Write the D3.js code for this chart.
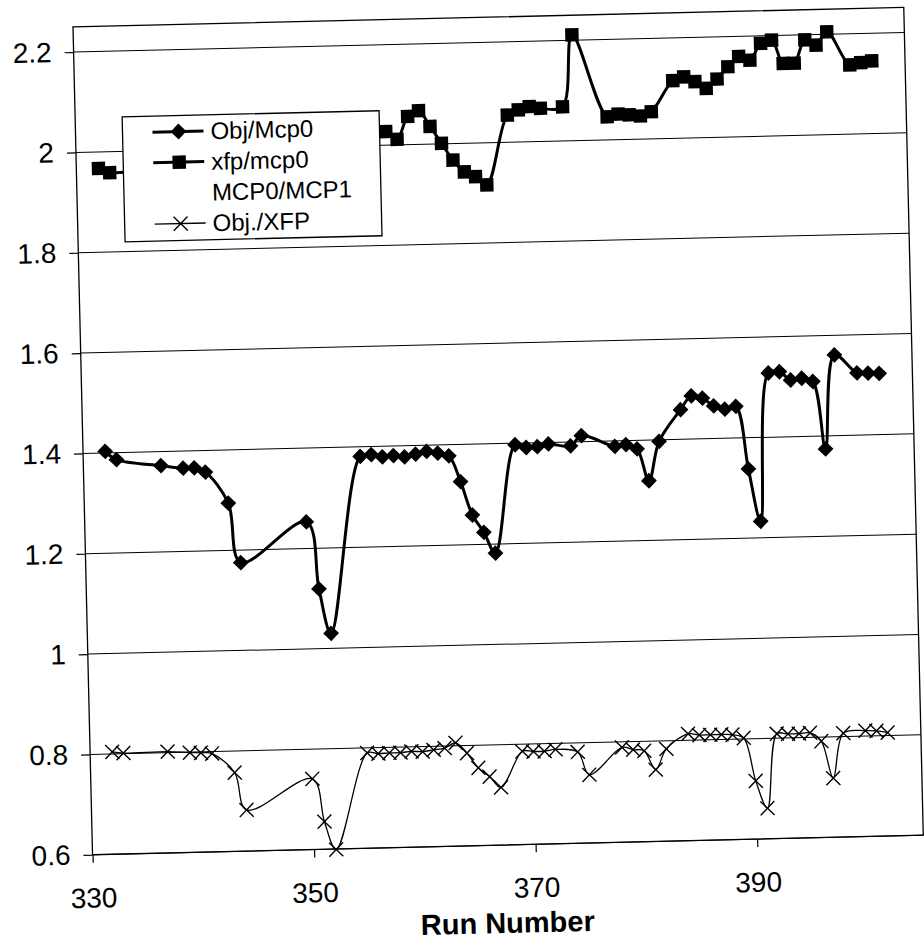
<!DOCTYPE html>
<html>
<head>
<meta charset="utf-8">
<script src="https://cdn.jsdelivr.net/npm/d3@7"></script>
<style>
  body { margin: 0; background: #fff; }
  text { font-family: "Liberation Sans", Arial, sans-serif; fill: #000; }
</style>
</head>
<body>
<div id="vis"></div>
<script>
// run numbers shared by Obj/Mcp0 and Obj./XFP
const runs = [332,333,337,339,340,341,343,344,350,351,352,355,356,357,358,359,360,361,362,363,
  364,365,366,367,369,370,371,372,374,375,378,379,380,381,382,384,385,386,387,388,389,390,391,
  392,393,394,395,396,397,398,400,401,402];
const objMcp0 = [1.403,1.386,1.372,1.366,1.366,1.357,1.294,1.175,1.253,1.119,1.030,1.381,1.384,
  1.379,1.381,1.378,1.383,1.388,1.384,1.378,1.326,1.259,1.224,1.182,1.397,1.391,1.392,1.397,
  1.392,1.412,1.389,1.392,1.383,1.319,1.397,1.459,1.486,1.481,1.465,1.458,1.463,1.338,1.233,
  1.528,1.530,1.513,1.516,1.509,1.374,1.561,1.524,1.523,1.522];
const objXfp = [0.804,0.801,0.802,0.799,0.798,0.796,0.757,0.682,0.741,0.655,0.599,0.790,0.788,
  0.789,0.789,0.791,0.790,0.793,0.796,0.806,0.785,0.755,0.737,0.715,0.786,0.785,0.785,0.788,
  0.782,0.736,0.789,0.784,0.781,0.743,0.784,0.813,0.810,0.810,0.810,0.809,0.802,0.716,0.661,
  0.809,0.808,0.808,0.809,0.792,0.718,0.807,0.811,0.810,0.806];
// xfp/mcp0 (points under the legend are not readable)
const xfpRuns = [332,333,358,359,360,361,362,363,364,365,366,367,369,370,371,372,374,375,378,
  379,380,381,382,384,385,386,387,388,389,390,391,392,393,394,395,396,397,398,400,401,402];
const xfpMcp0 = [1.967,1.958,2.027,2.011,2.056,2.067,2.035,2.001,1.967,1.943,1.933,1.916,2.054,
  2.064,2.070,2.066,2.068,2.211,2.046,2.051,2.049,2.046,2.054,2.115,2.122,2.112,2.098,2.116,
  2.140,2.160,2.152,2.185,2.191,2.144,2.144,2.190,2.179,2.205,2.138,2.142,2.145];
// MCP0/MCP1 has a legend entry but nothing plotted
const mcpRatio = [];

const yTicks = [0.6,0.8,1,1.2,1.4,1.6,1.8,2,2.2];
const xTicks = [330,350,370,390];
const legendNames = ["Obj/Mcp0","xfp/mcp0","MCP0/MCP1","Obj./XFP"];

const W = 924, H = 947;
const plotLeft = 73, plotTop = 27, pw = 831, ph = 828;

const svg = d3.select("#vis").append("svg")
    .attr("width", W)
    .attr("height", H);

// the scanned page is slightly skewed
const g = svg.append("g").attr("transform", "rotate(-1.35,72,27)");

const x = d3.scaleLinear().domain([330, 405]).range([plotLeft, plotLeft + pw]);
const y = d3.scaleLinear().domain([0.6, 2.25]).range([plotTop + ph, plotTop]);

// gridlines
g.append("g").selectAll("line")
    .data(yTicks)
    .enter().append("line")
    .attr("x1", plotLeft).attr("x2", plotLeft + pw)
    .attr("y1", d => y(d)).attr("y2", d => y(d))
    .attr("stroke", "#000").attr("stroke-width", 1);

g.append("rect")
    .attr("x", plotLeft).attr("y", plotTop)
    .attr("width", pw).attr("height", ph)
    .attr("fill", "none").attr("stroke", "#000").attr("stroke-width", 1.3);

const yAxis = g.append("g")
    .attr("transform", "translate(" + plotLeft + ",0)")
    .call(d3.axisLeft(y).tickValues(yTicks).tickSize(9).tickPadding(13)
        .tickFormat(d => String(+d.toFixed(1))));
const xAxis = g.append("g")
    .attr("transform", "translate(0," + (plotTop + ph) + ")")
    .call(d3.axisBottom(x).tickValues(xTicks).tickSize(8).tickPadding(25)
        .tickFormat(d3.format("d")));
[yAxis, xAxis].forEach(a => {
    a.select(".domain").remove();
    a.selectAll("line").attr("stroke", "#000").attr("stroke-width", 1.2);
    a.selectAll("text").style("font-size", "28px").attr("fill", "#000");
});

g.append("text")
    .attr("x", plotLeft + pw / 2 - 2)
    .attr("y", plotTop + ph + 88)
    .attr("text-anchor", "middle")
    .style("font-size", "29px")
    .style("font-weight", "bold")
    .text("Run Number");

const line = d3.line()
    .x(d => x(d[0]))
    .y(d => y(d[1]))
    .curve(d3.curveCatmullRom.alpha(0.5));

const diamond = d3.symbol().type(d3.symbolSquare).size(125);
const square = d3.symbol().type(d3.symbolSquare).size(180);

function drawSeries(xs, ys, width, marker) {
    const pts = xs.map((r, i) => [r, ys[i]]);
    const s = g.append("g");
    s.append("path")
        .attr("d", line(pts))
        .attr("fill", "none")
        .attr("stroke", "#000")
        .attr("stroke-width", width);
    const m = s.selectAll("g.m")
        .data(pts)
        .enter().append("g")
        .attr("class", "m")
        .attr("transform", d => "translate(" + x(d[0]) + "," + y(d[1]) + ")");
    marker(m);
}

function drawDiamond(sel) {
    sel.append("path").attr("d", diamond).attr("transform", "rotate(45)").attr("fill", "#000");
}
function drawSquare(sel) {
    sel.append("path").attr("d", square).attr("fill", "#000");
}
function drawCross(sel) {
    sel.append("path")
        .attr("d", "M-7,-7L7,7M-7,7L7,-7")
        .attr("stroke", "#000").attr("stroke-width", 1.4).attr("fill", "none");
}

drawSeries(runs, objXfp, 1.3, drawCross);
drawSeries(runs, objMcp0, 3, drawDiamond);
drawSeries(xfpRuns, xfpMcp0, 3, drawSquare);

// legend
const lg = g.append("g");
lg.append("rect")
    .attr("x", 120).attr("y", 118)
    .attr("width", 257).attr("height", 125)
    .attr("fill", "#fff").attr("stroke", "#000").attr("stroke-width", 1.3);

const legendRows = [
    {name: legendNames[0], width: 3, marker: drawDiamond},
    {name: legendNames[1], width: 3, marker: drawSquare},
    {name: legendNames[2], width: 0, marker: null, data: mcpRatio},
    {name: legendNames[3], width: 1.3, marker: drawCross}
];
legendRows.forEach((r, i) => {
    const cy = 134 + i * 30.7;
    if (r.width > 0) {
        lg.append("line")
            .attr("x1", 150).attr("x2", 201)
            .attr("y1", cy).attr("y2", cy)
            .attr("stroke", "#000").attr("stroke-width", r.width);
        const m = lg.append("g").attr("transform", "translate(176," + cy + ")");
        r.marker(m);
    }
    lg.append("text")
        .attr("x", 208).attr("y", cy)
        .attr("dy", "0.35em")
        .style("font-size", "24px")
        .text(r.name);
});
</script>
</body>
</html>
